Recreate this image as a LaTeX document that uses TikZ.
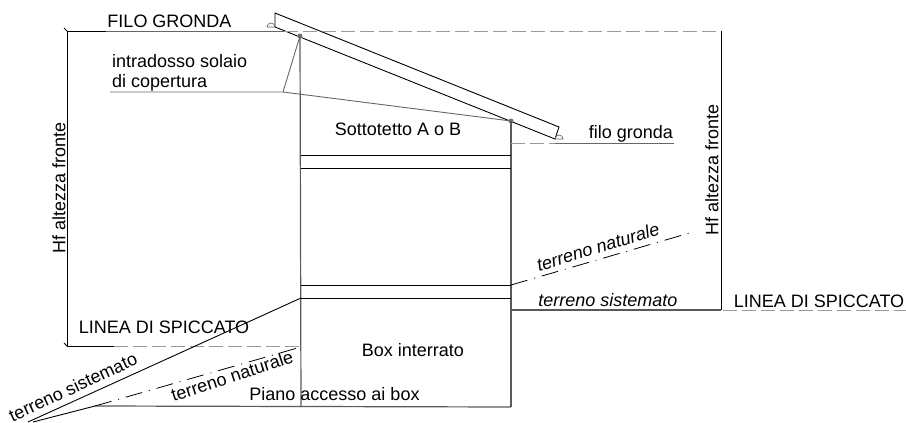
\documentclass[tikz,border=0pt]{standalone}
\usepackage{fontspec}
\setmainfont{Liberation Sans}
\newcommand{\corpo}{\fontsize{18}{20}\selectfont}
\tikzset{
  etichetta/.style={inner sep=0pt,font=\corpo},
  nera/.style={black,line width=0.9pt},
  grigia/.style={black!60,line width=0.9pt},
  muro/.style={black!65,line width=1.2pt},
  tratteggio/.style={black!40,line width=0.9pt,dash pattern=on 14pt off 5pt},
  puntolinea/.style={black,line width=0.8pt,dash pattern=on 17pt off 7pt on 1pt off 7pt},
  punto/.style={circle,fill=black!55,inner sep=0pt,minimum size=5pt},
}
\begin{document}
\begin{tikzpicture}[x=1pt,y=-1pt]
\useasboundingbox (0,0) rectangle (906,423);

% falda
\coordinate (fa) at (275,13);
\coordinate (fb) at (559,127);
\coordinate (fc) at (555,139);
\coordinate (fd) at (275,27);
\draw[nera] (fa)--(fb)--(fc)--(fd)--cycle;
\node[punto] (pa) at (300,36) {};
\node[punto] (pb) at (511,121) {};

% muri
\coordinate (ma) at (301,407);
\coordinate (mb) at (511,407);
\draw[muro] (pa.center)--(ma);
\draw[muro] (pb.center)--(mb);
\draw[muro] (95,406) coordinate (pia)--(mb);

% solai
\foreach \y in {155,168,285,298} {
  \draw[nera] (301,\y)--(511,\y);
}

% linee di gronda
\coordinate (ga) at (67,31);
\coordinate (gb) at (106,31);
\coordinate (gc) at (284,31);
\coordinate (gd) at (721,31);
\draw[nera] (ga)--(gb);
\draw[grigia] (gb)--(gc);
\draw[tratteggio] (gc)--(gd);
\coordinate (ha) at (511,143);
\coordinate (hb) at (555,143);
\coordinate (hc) at (674,143);
\draw[tratteggio] (ha)--(hb);
\draw[grigia] (hb)--(hc);

% gocciolatoi
\draw[black!60,line width=0.7pt] (267,27)--(275,27) arc (0:-180:4 and 4);
\draw[black!60,line width=0.7pt] (555,139)--(563,139) arc (0:-180:4 and 4);

% quote
\coordinate (qa) at (67,346);
\coordinate (qb) at (114,346);
\coordinate (qc) at (301,346);
\draw[nera] (gd)--(721,310) coordinate (qd);
\draw[nera] (ga)--(qa)--(qb);
\draw[tratteggio] (qb)--(qc);
\draw[nera] (64,343)--(qa);
\draw[nera] (64,28)--(ga);
\draw[muro] (511,310)--(qd);
\draw[tratteggio] (723,310)--(906,310);

% intradosso
\coordinate (ia) at (110,92);
\coordinate (ib) at (283,92);
\draw[grigia] (ia)--(ib)--(pa.center);
\draw[grigia] (ib)--(pb.center);

% terreni
\coordinate (ta) at (28,422);
\draw[nera] (301,298)--(ta);
\coordinate (tb) at (33,422);
\coordinate (tc) at (95,406);
\draw[nera] (tb)--(tc);
\draw[puntolinea] (tc)--(301,347);
\draw[puntolinea] (511,285)--(693,232);

% testi
\node[etichetta] (filo) at (169.5,21) {FILO GRONDA};
\node[etichetta,anchor=west] (intra) at (112,61) {intradosso solaio};
\node[etichetta,anchor=west] (cop) at (112,83) {di copertura};
\node[etichetta] (sotto) at (398,129) {Sottotetto A o B};
\node[etichetta] (filob) at (631,134) {filo gronda};
\node[etichetta,rotate=90] (hfa) at (59,188) {Hf altezza fronte};
\node[etichetta,rotate=90] (hfb) at (712,170) {Hf altezza fronte};
\node[etichetta] (lina) at (164,327) {LINEA DI SPICCATO};
\node[etichetta] (linb) at (819,301) {LINEA DI SPICCATO};
\node[etichetta] (box) at (413,350) {Box interrato};
\node[etichetta] (piano) at (334.5,394) {Piano accesso ai box};
\node[etichetta,rotate=25] (sisa) at (73,387) {terreno sistemato};
\node[etichetta,rotate=18] (nata) at (232,376) {terreno naturale};
\node[etichetta,rotate=17,font=\corpo\itshape] (natb) at (598,247) {terreno naturale};
\node[etichetta,font=\corpo\itshape] (sisb) at (608,300) {terreno sistemato};
\end{tikzpicture}
\end{document}
